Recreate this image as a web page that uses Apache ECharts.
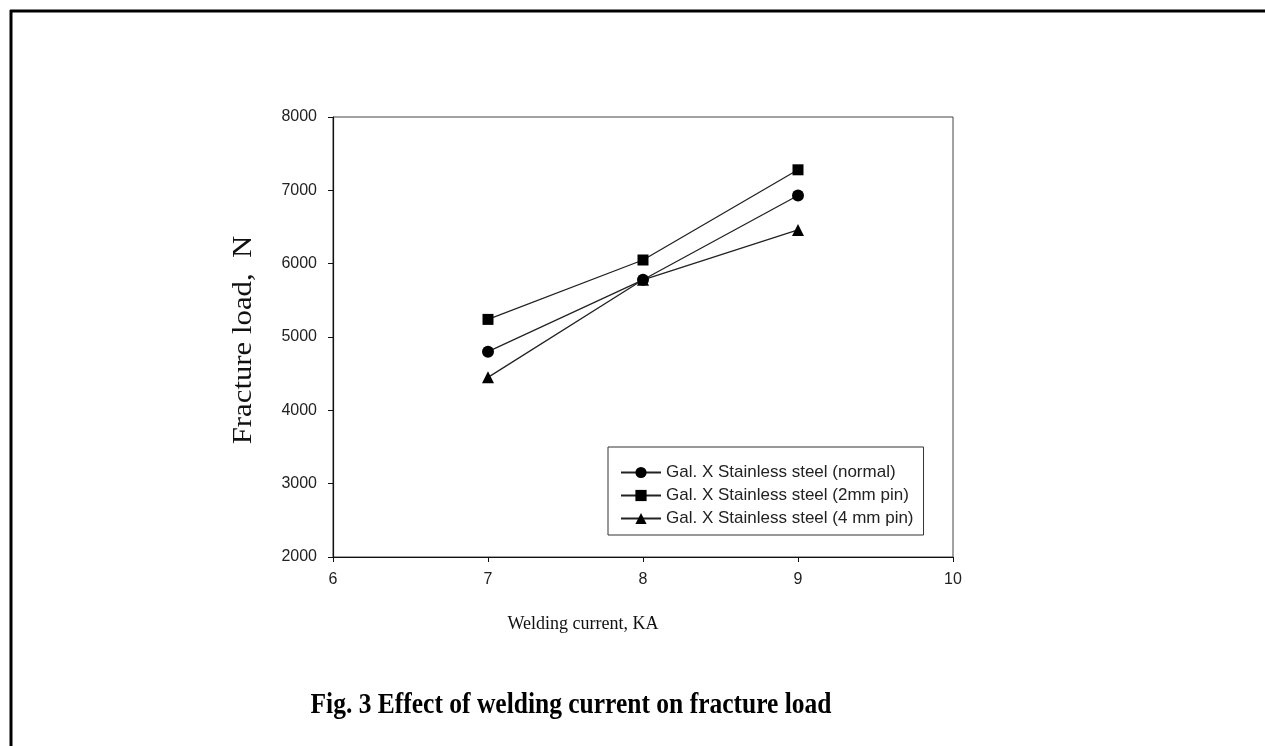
<!DOCTYPE html>
<html>
<head>
<meta charset="utf-8">
<script src="https://cdn.jsdelivr.net/npm/echarts@6/dist/echarts.min.js"></script>
<style>
html,body{margin:0;padding:0;background:#fff;}
#chart{width:1265px;height:746px;}
</style>
</head>
<body>
<div id="chart"></div>
<script>
// data
var currents = [7, 8, 9];
var normalLoad = [4800, 5780, 6930];
var pin2Load = [5240, 6050, 7280];
var pin4Load = [4450, 5780, 6460];
var seriesNames = [
	'Gal. X Stainless steel (normal)',
	'Gal. X Stainless steel (2mm pin)',
	'Gal. X Stainless steel (4 mm pin)'
];

var pairs = function(xs, ys){
	return xs.map(function(x, i){ return [x, ys[i]]; });
};

var myChart = echarts.init(document.getElementById('chart'));

var lineSeries = function(name, data, symbol, size){
	return {
		name: name,
		type: 'line',
		data: pairs(currents, data),
		symbol: symbol,
		symbolSize: size,
		lineStyle: {color: '#222', width: 1.3},
		itemStyle: {color: '#000'},
		z: 3
	};
};

var option = {
	backgroundColor: '#fff',
	animation: false,
	grid: {
		left: 333, top: 117, right: 312, bottom: 189,
		show: true, borderColor: '#444', borderWidth: 1
	},
	legend: {
		orient: 'vertical',
		left: 608, top: 447,
		padding: [17, 10, 8, 12],
		itemGap: 6,
		itemWidth: 40,
		itemHeight: 14,
		borderColor: '#333',
		borderWidth: 1,
		backgroundColor: '#fff',
		textStyle: {fontFamily: 'Liberation Sans', fontSize: 17, color: '#222'},
		data: seriesNames
	},
	xAxis: {
		type: 'value',
		min: 6, max: 10, interval: 1,
		axisLine: {show: true, lineStyle: {color: '#111', width: 1.2}},
		axisTick: {show: true, length: 5, lineStyle: {color: '#111'}},
		axisLabel: {fontFamily: 'Liberation Sans', fontSize: 16, color: '#222', margin: 15},
		splitLine: {show: false}
	},
	yAxis: {
		type: 'value',
		min: 2000, max: 8000, interval: 1000,
		axisLine: {show: true, lineStyle: {color: '#111', width: 1.2}},
		axisTick: {show: true, length: 5, lineStyle: {color: '#111'}},
		axisLabel: {
			fontFamily: 'Liberation Sans', fontSize: 16, color: '#222', margin: 16,
			formatter: function(v){ return String(v); }
		},
		splitLine: {show: false}
	},
	series: [
		lineSeries(seriesNames[0], normalLoad, 'circle', 12),
		lineSeries(seriesNames[1], pin2Load, 'rect', 11),
		lineSeries(seriesNames[2], pin4Load, 'triangle', 12)
	],
	graphic: [
		// outer frame of the page (top and left edges)
		{type: 'line', shape: {x1: 10, y1: 11, x2: 1265, y2: 11}, style: {stroke: '#000', lineWidth: 3}},
		{type: 'line', shape: {x1: 11, y1: 10, x2: 11, y2: 746}, style: {stroke: '#000', lineWidth: 3}},
		// axis titles
		{type: 'text', x: 244, y: 340, rotation: Math.PI / 2, scaleX: 1.1,
			style: {text: 'Fracture load,  N', font: '28px "Liberation Serif"', fill: '#111',
				align: 'center', verticalAlign: 'middle'}},
		{type: 'text', x: 583, y: 624,
			style: {text: 'Welding current, KA', font: '18px "Liberation Serif"', fill: '#111',
				align: 'center', verticalAlign: 'middle'}},
		// caption
		{type: 'text', x: 571, y: 705, scaleX: 0.85,
			style: {text: 'Fig. 3 Effect of welding current on fracture load', font: 'bold 30px "Liberation Serif"', fill: '#000',
				align: 'center', verticalAlign: 'middle'}}
	]
};

myChart.setOption(option);
</script>
</body>
</html>
